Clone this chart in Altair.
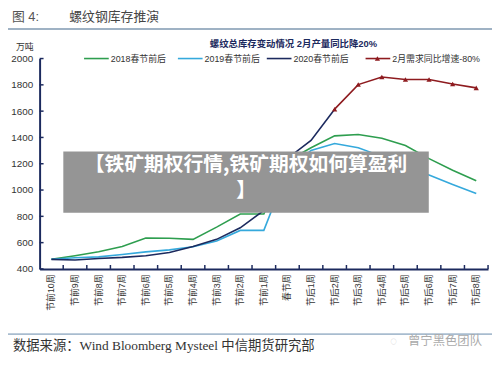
import altair as alt
import pandas as pd

categories = ["节前10周", "节前9周", "节前8周", "节前7周", "节前6周", "节前5周", "节前4周",
              "节前3周", "节前2周", "节前1周", "春节周", "节后1周", "节后2周", "节后3周",
              "节后4周", "节后5周", "节后6周", "节后7周", "节后8周"]
series_names = ["2018春节前后", "2019春节前后", "2020春节前后", "2月需求同比增速-80%"]
v2018 = [473, 500, 530, 570, 635, 633, 625, 718, 818, 818, 1220, 1322, 1412, 1422, 1394, 1339, 1239, 1151, 1071]
v2019 = [473, 485, 492, 510, 530, 545, 568, 613, 693, 693, 1150, 1301, 1354, 1322, 1256, 1170, 1114, 1042, 973]
v2020 = [473, 468, 480, 488, 500, 525, 570, 625, 713, 845, 1240, 1377, 1615] + [None] * 6
vdemand = [None] * 12 + [1615, 1802, 1860, 1840, 1840, 1807, 1777]
y_ticks = [400, 600, 800, 1000, 1200, 1400, 1600, 1800, 2000]
colors = ["#2e9e4f", "#35a9dc", "#1c2a5e", "#8e1b1f"]

rows = []
for name, vals in zip(series_names, [v2018, v2019, v2020, vdemand]):
    for c, v in zip(categories, vals):
        if v is not None:
            rows.append({"series": name, "cat": c, "value": v})
df = pd.DataFrame(rows)

FONT = "Liberation Sans, Noto Sans CJK SC, sans-serif"
NAVY = "#1c2a5e"
W, H = 454, 213

xscale = alt.Scale(type="band", paddingInner=0, paddingOuter=0)
xaxis = alt.Axis(title=None, labelAngle=270, labelFontSize=9, labelColor="#333", labelFont=FONT,
                 labelPadding=5, ticks=False, domainColor=NAVY, domainWidth=2, grid=False)
yscale = alt.Scale(domain=[400, 2000], nice=False, zero=False)
yaxis = alt.Axis(title=None, values=y_ticks, format="d", labelFontSize=10, labelColor="#333",
                 labelFont=FONT, labelPadding=7, ticks=False, domainColor=NAVY, domainWidth=2,
                 grid=False)


def X(**kw):
    return alt.X("cat:N", sort=categories, scale=xscale, axis=xaxis, **kw)


def Y():
    return alt.Y("value:Q", scale=yscale, axis=yaxis)


one = pd.DataFrame({"a": [0]})


def txt(t, x, y, size=9, color="#333", align="left", weight="normal", font=FONT,
        baseline="middle", **kw):
    return alt.Chart(one).mark_text(text=t, align=align, baseline=baseline, fontSize=size,
                                    color=color, fontWeight=weight, font=font, **kw).encode(
        x=alt.value(x), y=alt.value(y))


def hline(x1, x2, y, color, width=1.5):
    return alt.Chart(one).mark_rule(color=color, strokeWidth=width).encode(
        x=alt.value(x1), x2=alt.value(x2), y=alt.value(y))


lines = alt.Chart(df).mark_line(strokeWidth=1.6).encode(
    x=X(), y=Y(),
    color=alt.Color("series:N", scale=alt.Scale(domain=series_names, range=colors), legend=None),
)
points = alt.Chart(df[df["series"] == series_names[3]]).mark_point(
    shape="triangle-up", filled=True, size=28, color=colors[3], opacity=1).encode(x=X(), y=Y())

xticks = alt.Chart(pd.DataFrame({"cat": categories})).mark_rule(color=NAVY, strokeWidth=1.5).encode(
    x=X(bandPosition=1), y=alt.value(H), y2=alt.value(H - 4))
yticks = alt.Chart(pd.DataFrame({"value": y_ticks})).mark_rule(color=NAVY, strokeWidth=1.5).encode(
    y=Y(), x=alt.value(0), x2=alt.value(4))

layers = [lines, points, xticks, yticks]

# header
layers.append(txt("图 4:", -28, -42, size=13, color="#555"))
layers.append(txt("螺纹钢库存推演", 30, -42, size=13, color="#444"))
layers.append(hline(-35, 460, -30, "#9fb2c4", 2))
# chart title and unit
layers.append(txt("螺纹总库存变动情况  2月产量同比降20%", 257, -15, size=9.5, color=NAVY,
                  align="center", weight="bold"))
layers.append(txt("万吨", -15, -12, size=9, color="#333", align="center"))
# legend
leg_x = [45, 140, 230, 330]
for i, name in enumerate(series_names):
    layers.append(hline(leg_x[i], leg_x[i] + 25, 0, colors[i], 1.6))
    layers.append(txt(name, leg_x[i] + 27, 0, size=9, color="#333"))
layers.append(alt.Chart(one).mark_point(shape="triangle-up", filled=True, size=28, color=colors[3],
                                        opacity=1).encode(x=alt.value(leg_x[3] + 12), y=alt.value(0)))
# footer
layers.append(hline(-35, 460, 279, "#a8bccf", 2))
layers.append(txt("数据来源：Wind Bloomberg Mysteel 中信期货研究部", -27, 291, size=13.5, color="#333",
                  font="Liberation Serif, Noto Sans CJK SC, serif"))
layers.append(txt("曾宁黑色团队", 373, 286, size=12.5, color="#aaaaaa"))
layers.append(txt("◌", 355, 286, size=12, color="#c0c0c0"))
# overlay banner
layers.append(alt.Chart(one).mark_rect(color="#959595").encode(
    x=alt.value(24), x2=alt.value(394), y=alt.value(94), y2=alt.value(156)))
layers.append(txt(["【铁矿期权行情,铁矿期权如何算盈利", "】"], 209, 98, size=20, color="white",
                  align="center", weight="bold", font="Noto Sans CJK SC", baseline="top",
                  lineHeight=26))

chart = alt.layer(*layers).properties(
    width=W, height=H, autosize="none",
    padding={"left": 32, "top": 49, "right": 4, "bottom": 88},
    background="white",
).configure_view(stroke=None)

chart.save("out.html", embed_options={"renderer": "svg", "actions": False})
